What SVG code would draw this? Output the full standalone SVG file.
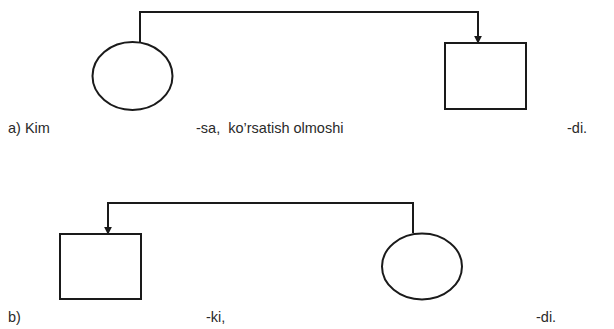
<svg xmlns="http://www.w3.org/2000/svg" width="614" height="329" viewBox="0 0 614 329">
  <defs>
    <style>
      .shape { fill: #ffffff; stroke: #1a1a1a; stroke-width: 2; }
      .conn { fill: none; stroke: #1a1a1a; stroke-width: 2; }
      .lbl { font-family: "Liberation Sans", Arial, sans-serif; font-size: 14.5px; fill: #2a2a2a; }
    </style>
    <marker id="arrow" viewBox="0 0 10 10" refX="9" refY="5" markerWidth="4" markerHeight="4" orient="auto" markerUnits="strokeWidth">
      <path d="M0,0 L10,5 L0,10 Z" fill="#1a1a1a"/>
    </marker>
  </defs>
  <rect width="614" height="329" fill="#ffffff"/>
  <g id="connectors">
    <path class="conn" d="M140,42 V12 H478 V43" marker-end="url(#arrow)"/>
    <path class="conn" d="M413,233 V203 H108 V234" marker-end="url(#arrow)"/>
  </g>
  <g id="node-a-circle">
    <ellipse class="shape" cx="132.5" cy="76" rx="40" ry="34"/>
  </g>
  <g id="node-a-square">
    <rect class="shape" x="445" y="43" width="81" height="66"/>
  </g>
  <g id="node-b-square">
    <rect class="shape" x="60" y="234" width="81" height="65"/>
  </g>
  <g id="node-b-circle">
    <ellipse class="shape" cx="422" cy="266.5" rx="40" ry="33"/>
  </g>
  <g id="labels">
    <text class="lbl" x="8" y="133">a) Kim</text>
    <text class="lbl" x="196" y="133" xml:space="preserve">-sa,  ko’rsatish olmoshi</text>
    <text class="lbl" x="567" y="133">-di.</text>
    <text class="lbl" x="8" y="322">b)</text>
    <text class="lbl" x="206" y="322">-ki,</text>
    <text class="lbl" x="536" y="322">-di.</text>
  </g>
</svg>
